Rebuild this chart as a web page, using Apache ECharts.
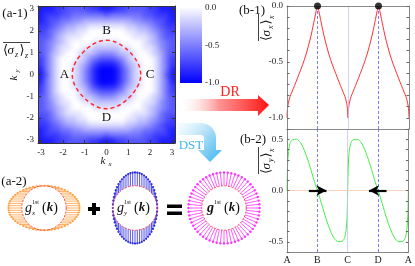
<!DOCTYPE html>
<html><head><meta charset="utf-8">
<script src="https://cdn.jsdelivr.net/npm/echarts@6.0.0/dist/echarts.min.js"></script>
<style>
html,body{margin:0;padding:0;background:#fff;overflow:hidden}
#wrap{position:relative;width:415px;height:266px;background:#fff}
#hclip{position:absolute;left:38px;top:6px;width:137px;height:137px;overflow:hidden}
#h{position:absolute;left:-12px;top:-12px;width:161px;height:161px;filter:blur(2.4px)}
#c{position:absolute;left:0;top:0;width:415px;height:266px}
</style>
</head><body><div id="wrap"><div id="hclip"><div id="h"></div></div><div id="c"></div></div>
<script>
// ---------- data ----------
const kTicks = [-3, -2, -1, 0, 1, 2, 3];
// heat map levels (0 = white/0.0 ... 9 = deep blue/-1.0), rows from ky=-pi (bottom) to ky=+pi (top)
const heatRows = [
"8887766667788877666677888",
"8777665555556555555667778",
"8766554433333333344556678",
"7765433221111111223345677",
"7654322110000000112234567",
"6653211100000000011123566",
"6543210000111110000123456",
"6542110011222221100112456",
"6532100122344432210012356",
"7531000124566654210001357",
"7531001235788875321001357",
"8531001246899986421001358",
"8631001246899986421001368",
"8531001246899986421001358",
"7531001235788875321001357",
"7531000124566654210001357",
"6532100122344432210012356",
"6542110011222221100112456",
"6543210000111110000123456",
"6653211100000000011123566",
"7654322110000000112234567",
"7765433221111111223345677",
"8766554433333333344556678",
"8777665555556555555667778",
"8887766667788877666677888"
];
const cbTicks = [0, -0.5, -1];
const contourX = [1.571,1.540,1.449,1.263,1.047,0.8,0.5,0.25,0,-0.25,-0.5,-0.8,-1.047,-1.263,-1.449,-1.540,-1.571,-1.540,-1.449,-1.263,-1.047,-0.8,-0.5,-0.25,0,0.25,0.5,0.8,1.047,1.263,1.449,1.540,1.571];
const contourY = [0,0.25,0.5,0.8,1.047,1.263,1.449,1.540,1.571,1.540,1.449,1.263,1.047,0.8,0.5,0.25,0,-0.25,-0.5,-0.8,-1.047,-1.263,-1.449,-1.540,-1.571,-1.540,-1.449,-1.263,-1.047,-0.8,-0.5,-0.25,0];
const pathLabels = ['A', 'B', 'C', 'D', 'A'];
const pathTicks = [0, 1, 2, 3, 4];
const redT = [0,0.01,0.03,0.06,0.1,0.16,0.25,0.35,0.45,0.57,0.7,0.8,0.9,0.96,1,
  1.04,1.1,1.2,1.3,1.43,1.55,1.65,1.75,1.84,1.9,1.94,1.97,1.99,2,
  2.01,2.03,2.06,2.1,2.16,2.25,2.35,2.45,2.57,2.7,2.8,2.9,2.96,3,
  3.04,3.1,3.2,3.3,3.43,3.55,3.65,3.75,3.84,3.9,3.94,3.97,3.99,4];
const redV = [-1,-0.94,-0.89,-0.85,-0.81,-0.77,-0.71,-0.64,-0.57,-0.48,-0.36,-0.25,-0.12,-0.04,0,
  -0.04,-0.12,-0.25,-0.36,-0.48,-0.57,-0.64,-0.71,-0.77,-0.81,-0.85,-0.89,-0.94,-1,
  -0.94,-0.89,-0.85,-0.81,-0.77,-0.71,-0.64,-0.57,-0.48,-0.36,-0.25,-0.12,-0.04,0,
  -0.04,-0.12,-0.25,-0.36,-0.48,-0.57,-0.64,-0.71,-0.77,-0.81,-0.85,-0.89,-0.94,-1];
const greenT = [0,0.02,0.05,0.1,0.18,0.31,0.45,0.6,0.75,0.9,1, 1.1,1.25,1.4,1.55,1.69,1.82,1.9,1.95,1.98,2, 2.02,2.05,2.1,2.18,2.31,2.45,2.6,2.75,2.9,3, 3.1,3.25,3.4,3.55,3.69,3.82,3.9,3.95,3.98,4];
const greenV = [0,0.25,0.38,0.46,0.495,0.5,0.465,0.37,0.24,0.09,0, -0.09,-0.24,-0.37,-0.465,-0.5,-0.495,-0.46,-0.38,-0.25,0, 0.25,0.38,0.46,0.495,0.5,0.465,0.37,0.24,0.09,0, -0.09,-0.24,-0.37,-0.465,-0.5,-0.495,-0.46,-0.38,-0.25,0];
const dotT = [1, 3];
const dotV = [0, 0];
const dashedT = [1, 3];
const solidT = [2];
const arrowFrom = [0.72, 3.28];
const arrowTo = [1.3, 2.7];
const b1Labels = [0, -0.5, -1];
const b1Ticks = [-1.1,-1,-0.9,-0.8,-0.7,-0.6,-0.5,-0.4,-0.3,-0.2,-0.1,0];
const b2Labels = [-0.5, 0, 0.5];
const b2Ticks = [-0.6,-0.5,-0.4,-0.3,-0.2,-0.1,0,0.1,0.2,0.3,0.4,0.5,0.6];
const arrowDeg = [0,6,12,18,24,30,36,42,48,54,60,66,72,78,84,90,96,102,108,114,120,126,132,138,144,150,156,162,168,174,180,186,192,198,204,210,216,222,228,234,240,246,252,258,264,270,276,282,288,294,300,306,312,318,324,330,336,342,348,354];

// ---------- build ----------
const SERIF = '"Liberation Serif","DejaVu Serif",serif';
const PI = Math.PI;
const nCell = heatRows.length;
const cell = 2 * PI / nCell;
const heatData = [];
heatRows.forEach((row, j) => {
  for (let i = 0; i < row.length; i++) {
    heatData.push([-PI + (i + 0.5) * cell, -PI + (j + 0.5) * cell, -Number(row[i]) / 9, i, j]);
  }
});

// heat map layer (softened with a CSS blur, clipped to the plot square)
const heat = echarts.init(document.getElementById('h'), null, { renderer: 'canvas' });
const EXT = 12;
heat.setOption({
  animation: false,
  grid: { left: 12, top: 12, width: 137, height: 137 },
  xAxis: { type: 'value', min: -PI, max: PI, show: false },
  yAxis: { type: 'value', min: -PI, max: PI, show: false },
  visualMap: { type: 'continuous', show: false, dimension: 2, min: -1, max: 0, inRange: { color: ['#0000ff', '#ffffff'] } },
  series: [{
    type: 'custom', silent: true, data: heatData, encode: { x: 0, y: 1 },
    renderItem(params, api) {
      const x = api.value(0), y = api.value(1), i = api.value(3), j = api.value(4);
      const a = api.coord([x - cell / 2, y + cell / 2]);
      const b = api.coord([x + cell / 2, y - cell / 2]);
      let x0 = a[0], y0 = a[1], x1 = b[0] + 0.6, y1 = b[1] + 0.6;
      if (i === 0) x0 -= EXT;
      if (i === nCell - 1) x1 += EXT;
      if (j === 0) y1 += EXT;
      if (j === nCell - 1) y0 -= EXT;
      return { type: 'rect', shape: { x: x0, y: y0, width: x1 - x0, height: y1 - y0 }, style: { fill: api.visual('color') } };
    }
  }]
});

const chart = echarts.init(document.getElementById('c'), null, { renderer: 'canvas' });

const tickLbl = { fontFamily: SERIF, fontSize: 9, color: '#222' };
function heatAxis(pos, grid, isX, showLabel) {
  return {
    type: 'value', gridIndex: grid, position: pos, min: -PI, max: PI, z: 5,
    axisLine: { show: true, onZero: false, lineStyle: { color: '#333', width: 1 } },
    axisTick: { show: true, inside: true, length: 3, customValues: kTicks, lineStyle: { color: '#333' } },
    axisLabel: { show: showLabel, customValues: kTicks, margin: isX ? 5 : 4, ...tickLbl },
    splitLine: { show: false }
  };
}
function plainAxis(grid, pos, min, max, ticks, labels, fmt, color) {
  return {
    type: 'value', gridIndex: grid, position: pos, min: min, max: max, z: 5,
    axisLine: { show: true, onZero: false, lineStyle: { color: color || '#888', width: 1 } },
    axisTick: { show: !!ticks, inside: true, length: 2.5, customValues: ticks || [], lineStyle: { color: '#666' } },
    axisLabel: { show: !!labels, customValues: labels || [], formatter: fmt, margin: 4, ...tickLbl },
    splitLine: { show: false }
  };
}
const pathFmt = v => pathLabels[Math.round(v)];
const numFmt = v => (Math.abs(v) < 1e-9 ? 0 : v).toFixed(1);

function diagramAxis(grid) {
  return { type: 'value', gridIndex: grid, min: -1.8, max: 1.8, show: false };
}

const xAxis = [
  heatAxis('bottom', 0, true, true),
  heatAxis('top', 0, true, false),
  { type: 'value', gridIndex: 1, min: 0, max: 1, show: false },
  plainAxis(2, 'bottom', 0, 4, null, null),
  plainAxis(2, 'top', 0, 4, null, null),
  plainAxis(3, 'bottom', 0, 4, null, pathTicks, pathFmt),
  plainAxis(3, 'top', 0, 4, null, null),
  diagramAxis(4), diagramAxis(5), diagramAxis(6)
];
xAxis[5].axisLabel.fontSize = 10;
xAxis[5].axisLabel.margin = 3;
const yAxis = [
  heatAxis('left', 0, false, true),
  heatAxis('right', 0, false, false),
  { type: 'value', gridIndex: 1, min: -1, max: 0, position: 'right', axisLine: { show: false }, axisTick: { show: false }, splitLine: { show: false },
    axisLabel: { show: true, customValues: cbTicks, formatter: numFmt, margin: 3, ...tickLbl } },
  plainAxis(2, 'left', -1.1, 0, b1Ticks, b1Labels, numFmt),
  plainAxis(2, 'right', -1.1, 0, b1Ticks, null),
  plainAxis(3, 'left', -0.6, 0.6, b2Ticks, b2Labels, numFmt),
  plainAxis(3, 'right', -0.6, 0.6, b2Ticks, null),
  diagramAxis(4), diagramAxis(5), diagramAxis(6)
];

const vLineStyleDash = { type: [3, 2], color: '#5a5aff', width: 0.8 };
const vLineStyleSolid = { type: 'solid', color: '#c4c4f6', width: 0.8 };
const vMarks = dashedT.map(t => ({ xAxis: t, lineStyle: vLineStyleDash }))
  .concat(solidT.map(t => ({ xAxis: t, lineStyle: vLineStyleSolid })));

const L = 0.6;
function diagramSeries(idx, mode, color, headR) {
  return {
    type: 'custom', xAxisIndex: idx, yAxisIndex: idx, silent: true, z: 3,
    data: arrowDeg.map(d => [d, 0]),
    renderItem(params, api) {
      const th = api.value(0) * PI / 180;
      const c = Math.cos(th), s = Math.sin(th);
      let ex = c, ey = s;
      if (mode === 'x') ex = c * (1 + L);
      else if (mode === 'y') ey = s * (1 + L);
      else { ex = c * (1 + L); ey = s * (1 + L); }
      const p0 = api.coord([c, s]), p1 = api.coord([ex, ey]);
      return { type: 'group', children: [
        { type: 'line', shape: { x1: p0[0], y1: p0[1], x2: p1[0], y2: p1[1] }, style: { stroke: color, lineWidth: 0.8 } },
        { type: 'circle', shape: { cx: p1[0], cy: p1[1], r: headR }, style: { fill: color } }
      ] };
    }
  };
}
function ringSeries(idx) {
  return {
    type: 'custom', xAxisIndex: idx, yAxisIndex: idx, silent: true, z: 4,
    data: [[0, 0]],
    renderItem(params, api) {
      const c = api.coord([0, 0]);
      const r = api.size([1, 0])[0];
      return { type: 'circle', shape: { cx: c[0], cy: c[1], r: r }, style: { fill: 'none', stroke: '#ff3030', lineWidth: 0.9, lineDash: [2, 1.6] } };
    }
  };
}

const series = [
  { // contour
    type: 'line', xAxisIndex: 0, yAxisIndex: 0, z: 4, silent: true,
    data: contourX.map((x, i) => [x, contourY[i]]), smooth: 0.4, symbol: 'none',
    lineStyle: { color: '#ff2a2a', width: 1.5, type: [4, 3] }
  },
  { // colorbar
    type: 'custom', xAxisIndex: 2, yAxisIndex: 2, silent: true,
    data: [[0, 0]],
    renderItem(params, api) {
      const a = api.coord([0, 0]), b = api.coord([1, -1]);
      return { type: 'rect', shape: { x: a[0], y: a[1], width: b[0] - a[0], height: b[1] - a[1] },
        style: { fill: new echarts.graphic.LinearGradient(0, 0, 0, 1, [{ offset: 0, color: '#fbfbff' }, { offset: 1, color: '#0000ff' }]) } };
    }
  },
  { // b-1 red curve
    type: 'line', xAxisIndex: 3, yAxisIndex: 3, z: 3, silent: true,
    data: redT.map((t, i) => [t, redV[i]]), smooth: 0.3, symbol: 'none',
    lineStyle: { color: '#ff3030', width: 1 },
    markLine: { silent: true, symbol: 'none', label: { show: false }, animation: false, data: vMarks }
  },
  { // b-1 dots
    type: 'scatter', xAxisIndex: 3, yAxisIndex: 3, z: 6, clip: false, silent: true,
    data: dotT.map((t, i) => [t, dotV[i]]), symbolSize: 7, itemStyle: { color: '#000' }
  },
  { // b-2 green curve
    type: 'line', xAxisIndex: 5, yAxisIndex: 5, z: 3, silent: true,
    data: greenT.map((t, i) => [t, greenV[i]]), smooth: 0.3, symbol: 'none',
    lineStyle: { color: '#44ee44', width: 1 },
    markLine: { silent: true, symbol: 'none', label: { show: false }, animation: false,
      data: vMarks.concat([{ yAxis: 0, lineStyle: { type: 'solid', color: '#f6c9ad', width: 0.8 } }])
        .concat(arrowFrom.map((f, i) => [
          { coord: [f, 0], symbol: 'none', lineStyle: { type: 'solid', color: '#000', width: 2.2 } },
          { coord: [arrowTo[i], 0], symbol: 'arrow', symbolSize: [8, 10] }
        ])) }
  },
  diagramSeries(7, 'x', '#ffa040', 1.1),
  ringSeries(7),
  diagramSeries(8, 'y', '#2a2ae6', 1.1),
  ringSeries(8),
  diagramSeries(9, 'r', '#ff33ff', 1.2),
  ringSeries(9)
];

// ---------- graphic annotations ----------
function txt(x, y, text, size, opts) {
  opts = opts || {};
  return { type: 'text', x: x, y: y, rotation: opts.rot || 0, z: 100, silent: true,
    style: { text: text, font: (opts.style || '') + ' ' + (opts.weight || '') + ' ' + size + 'px ' + SERIF,
      fill: opts.color || '#111', align: opts.align || 'center', verticalAlign: 'middle',
      textAlign: opts.align || 'center', textVerticalAlign: 'middle' } };
}
function sigmaLabel(cx, cy, s1, s2, rot) {
  const L0 = -14;
  return { type: 'group', x: cx, y: cy, rotation: rot || 0, z: 100, silent: true, children: [
    txt(L0, 0, '⟨', 13, { align: 'left' }),
    txt(L0 + 4.5, 0, 'σ', 13, { align: 'left', style: 'italic' }),
    txt(L0 + 12, 4, s1, 8, { align: 'left', style: 'italic' }),
    txt(L0 + 16.5, 0, '⟩', 13, { align: 'left' }),
    txt(L0 + 22, 5, s2, 8, { align: 'left', style: 'italic' }),
    { type: 'line', shape: { x1: L0, y1: -8.5, x2: L0 + 27, y2: -8.5 }, style: { stroke: '#111', lineWidth: 0.8 } }
  ] };
}
function kLabel(cx, cy, sub, rot) {
  return { type: 'group', x: cx, y: cy, rotation: rot || 0, z: 100, silent: true, children: [
    txt(-4, 0, 'k', 11, { style: 'italic' }),
    txt(1.5, 3, sub, 7, { align: 'left', style: 'italic' })
  ] };
}
function gLabel(x, y, sub, bold) {
  const ch = [
    txt(x, y, 'g', 14, { align: 'left', style: 'italic', weight: bold ? 'bold' : '' }),
    txt(x + 7, y - 6, '1st', 6, { align: 'left' }),
    { type: 'text', x: x + 17, y: y, z: 100, silent: true, style: {
      text: '{a|(}{b|k}{a|)}', align: 'left', verticalAlign: 'middle', textAlign: 'left', textVerticalAlign: 'middle',
      rich: { a: { fontFamily: SERIF, fontSize: 14, fill: '#111', color: '#111' },
              b: { fontFamily: SERIF, fontSize: 13, fontStyle: 'italic', fontWeight: 'bold', fill: '#111', color: '#111' } } } }
  ];
  if (sub) ch.push(txt(x + 7, y + 5, sub, 7, { align: 'left', style: 'italic' }));
  return ch;
}
function arcPts(cx, cy, r, a0, a1, n) {
  const pts = [];
  for (let i = 0; i <= n; i++) { const a = (a0 + (a1 - a0) * i / n) * PI / 180; pts.push([cx + r * Math.cos(a), cy + r * Math.sin(a)]); }
  return pts;
}
const dstPts = [[178, 123]].concat(arcPts(201, 138, 15, -90, 0, 10))
  .concat([[216, 150], [222, 150], [210, 162], [198, 150], [204, 150]])
  .concat(arcPts(201, 138, 3, 0, -90, 4)).concat([[178, 135]]);

const graphics = [
  txt(15, 14, '(a-1)', 13),
  sigmaLabel(17, 51, 'z', 'z', 0),
  kLabel(14, 74, 'y', PI / 2),
  kLabel(107, 161, 'x', 0),
  txt(64.5, 75, 'A', 13), txt(106.5, 31, 'B', 13), txt(150, 75, 'C', 13), txt(106.5, 118, 'D', 13),
  { type: 'polygon', z: 50, silent: true, shape: { points: [[178, 99], [258, 99], [258, 95], [269, 105], [258, 116], [258, 111], [178, 111]] },
    style: { fill: new echarts.graphic.LinearGradient(0, 0, 1, 0, [{ offset: 0, color: 'rgba(255,255,255,0)' }, { offset: 0.45, color: 'rgba(255,120,120,0.8)' }, { offset: 1, color: '#ff1010' }]) } },
  txt(230, 92, 'DR', 14, { color: '#ff2020' }),
  { type: 'polygon', z: 50, silent: true, shape: { points: dstPts },
    style: { fill: new echarts.graphic.LinearGradient(0, 0, 1, 1, [{ offset: 0, color: 'rgba(225,245,255,0.3)' }, { offset: 0.5, color: '#a8dcf6' }, { offset: 1, color: '#38b4f0' }]) } },
  txt(191, 146, 'DST', 13, { color: '#3cb8f0' }),
  txt(252, 11, '(b-1)', 13),
  txt(253, 140, '(b-2)', 13),
  sigmaLabel(267, 27, 'x', 'x', PI / 2),
  sigmaLabel(267, 160, 'y', 'x', PI / 2),
  txt(14, 182, '(a-2)', 13),
  { type: 'rect', z: 50, silent: true, shape: { x: 88, y: 207, width: 12, height: 4 }, style: { fill: '#000' } },
  { type: 'rect', z: 50, silent: true, shape: { x: 92, y: 203, width: 4, height: 12 }, style: { fill: '#000' } },
  { type: 'rect', z: 50, silent: true, shape: { x: 167, y: 204.5, width: 15, height: 3.5 }, style: { fill: '#000' } },
  { type: 'rect', z: 50, silent: true, shape: { x: 167, y: 211.5, width: 15, height: 3.5 }, style: { fill: '#000' } }
].concat(gLabel(25, 208, 'x', false), gLabel(117, 208, 'y', false), gLabel(207, 208, null, true));

chart.setOption({
  animation: false,
  backgroundColor: 'transparent',
  grid: [
    { left: 38, top: 6, width: 137, height: 137 },
    { left: 180, top: 8, width: 22, height: 75 },
    { left: 287, top: 6, width: 122, height: 123 },
    { left: 287, top: 129, width: 122, height: 123 },
    { left: 4, top: 168, width: 80, height: 80 },
    { left: 95, top: 168, width: 80, height: 80 },
    { left: 184, top: 168, width: 80, height: 80 }
  ],
  xAxis: xAxis,
  yAxis: yAxis,
  series: series,
  graphic: { elements: graphics }
});
</script>
</body></html>
